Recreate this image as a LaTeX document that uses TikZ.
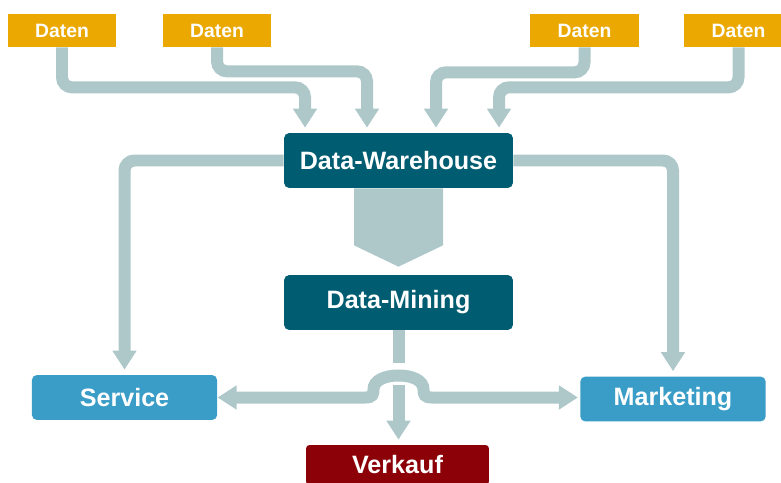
\documentclass[tikz,border=0pt]{standalone}
\usepackage{fontspec}
\setmainfont{Liberation Sans}
\usepackage{tikz}
\usetikzlibrary{calc}
\usetikzlibrary{arrows.meta, positioning}
\definecolor{SRC}{HTML}{EAA800}
\definecolor{DWH}{HTML}{005C70}
\definecolor{USE}{HTML}{3A9DC7}
\definecolor{SAL}{HTML}{8C0008}
\definecolor{FLW}{HTML}{AEC8CA}
\tikzset{
  SRC/.style={% Style for the data source boxes
      rectangle,
      fill=SRC,
      text=white,
      font=\bfseries\fontsize{11}{13}\selectfont,
      minimum width=2.18cm,
      minimum height=.66cm,
  },
  DWH/.style={% Style for warehouse and mining boxes
      rectangle, rounded corners=3pt,
      fill=DWH,
      text=white,
      font=\bfseries\fontsize{14.3}{16}\selectfont,
      minimum width=4.58cm,
      minimum height=1.1cm,
  },
  USE/.style={% Style for the user boxes
      rectangle, rounded corners=3pt,
      fill=USE,
      text=white,
      font=\bfseries\fontsize{14.3}{16}\selectfont,
      minimum width=3.71cm,
      minimum height=.9cm,
  },
  SAL/.style={% Style for the sales box
      rectangle, rounded corners=2pt,
      fill=SAL,
      text=white,
      font=\bfseries\fontsize{14.3}{16}\selectfont,
      minimum width=3.66cm,
      minimum height=.8cm,
  },
  FLW/.style={% grey flow line, no tip
      draw=FLW, line width=.24cm, rounded corners=.2cm,
  },
  ARR/.style={% grey flow line with tip
      FLW,
      -{Triangle[width=.46cm,length=.38cm]},
      shorten >=.1cm,
  },
}

\begin{document}
\begin{tikzpicture}[x=0.02cm, y=-0.02cm]
    \useasboundingbox (0,0) rectangle (781,483);
    \clip (0,0) rectangle (781,483);
    \node[SRC] (Src1) at (62,30.5) {Daten};
    \node[SRC] (Src2) at (217,30.5) {Daten};
    \node[SRC] (Src3) at (584.5,30.5) {Daten};
    \node[SRC] (Src4) at (738.5,30.5) {Daten};
    \node[DWH] (DW) at (398.5,160.5) {Data-Warehouse};
    \node[DWH] (DM) at (398.5,302.5) {Data-Mining};
    \node[USE] (Service) at (124.5,397.5) {Service};
    \node[USE] (Marketing) at (673,399) {Marketing};
    \node[SAL] (Verkauf) at (397.5,465) {Verkauf};
    \coordinate (hop) at (DM.south |- Service.east);
    \draw[ARR] (Src1.south) -- ++(0,40) -| ($(DW.north)+(-93.5,0)$);
    \draw[ARR] (Src2.south) -- ++(0,24) -| ($(DW.north)+(-31.5,0)$);
    \draw[ARR] (Src3.south) -- ++(0,25) -| ($(DW.north)+(37.5,0)$);
    \draw[ARR] (Src4.south) -- ++(0,40) -| ($(DW.north)+(100.5,0)$);
    \draw[ARR] (DW.west) -| (Service.north);
    \draw[ARR] (DW.east) -| (Marketing.north);
    \fill[fill=FLW] ($(DW.south)+(-44.5,0)$) -- ++(89,0) -- ++(0,57)
      -- ($(DM.north)+(0,-8)$) -- ($(DW.south)+(-44.5,57)$) -- cycle;
    \draw[FLW] (DM.south) -- ++(0,33);
    \draw[FLW, sharp corners, {Triangle[width=.46cm,length=.38cm]}-{Triangle[width=.46cm,length=.38cm]}, shorten >=.04cm]
      (Service.east) -- ($(hop)+(-33,0)$)
      .. controls ($(hop)+(-26,0)$) and ($(hop)+(-25,-3)$) .. ($(hop)+(-25,-8)$)
      .. controls ($(hop)+(-25,-17)$) and ($(hop)+(-14,-22)$) .. ($(hop)+(0,-22)$)
      .. controls ($(hop)+(14,-22)$) and ($(hop)+(25,-17)$) .. ($(hop)+(25,-8)$)
      .. controls ($(hop)+(25,-3)$) and ($(hop)+(26,0)$) .. ($(hop)+(33,0)$)
      -- (Marketing.west |- hop);
    \draw[ARR] ($(DM.south)+(0,55)$) -- (DM.south |- Verkauf.north);
  \end{tikzpicture}
\end{document}
